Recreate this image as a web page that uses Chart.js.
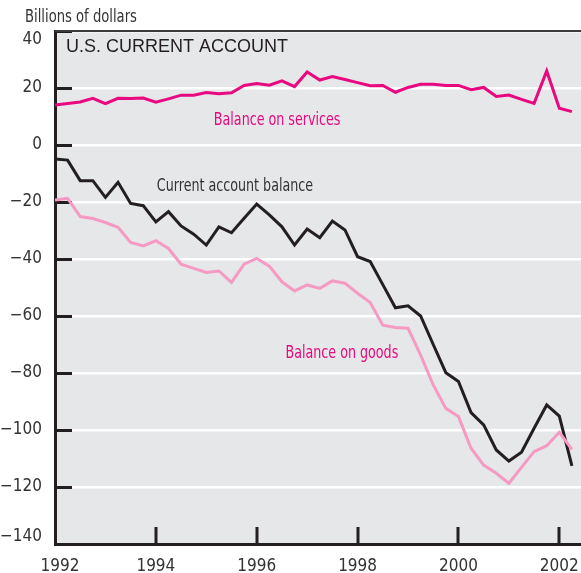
<!DOCTYPE html>
<html>
<head>
<meta charset="utf-8">
<script src="https://cdn.jsdelivr.net/npm/chart.js@4/dist/chart.umd.min.js"></script>
<style>
  html, body { margin: 0; padding: 0; background: #fff; }
  #wrap { position: relative; width: 581px; height: 573px; }
</style>
</head>
<body>
<div id="wrap"><canvas id="chart" width="581" height="573"></canvas></div>
<script>
// Quarterly balances, billions of dollars.
// Each quarter is plotted at its end date, so 1991Q4 sits on the 1992 tick.
const quarters = [
  '1991Q4',
  '1992Q1', '1992Q2', '1992Q3', '1992Q4',
  '1993Q1', '1993Q2', '1993Q3', '1993Q4',
  '1994Q1', '1994Q2', '1994Q3', '1994Q4',
  '1995Q1', '1995Q2', '1995Q3', '1995Q4',
  '1996Q1', '1996Q2', '1996Q3', '1996Q4',
  '1997Q1', '1997Q2', '1997Q3', '1997Q4',
  '1998Q1', '1998Q2', '1998Q3', '1998Q4',
  '1999Q1', '1999Q2', '1999Q3', '1999Q4',
  '2000Q1', '2000Q2', '2000Q3', '2000Q4',
  '2001Q1', '2001Q2', '2001Q3', '2001Q4',
  '2002Q1',
];

const services = [
  14.0, 14.6, 15.1, 16.4, 14.5, 16.4, 16.3, 16.5, 15.0, 16.2,
  17.5, 17.5, 18.4, 18.0, 18.3, 20.9, 21.6, 21.0, 22.5, 20.5,
  25.6, 22.8, 24.0, 23.0, 21.9, 20.8, 20.9, 18.5, 20.2, 21.3,
  21.3, 20.9, 20.9, 19.4, 20.2, 17.0, 17.5, 16.0, 14.6, 26.0,
  12.9, 11.7,
];

const currentAccount = [
  -4.9, -5.3, -12.5, -12.5, -18.4, -13.1, -20.5, -21.3, -27.0, -23.4,
  -28.4, -31.3, -35.1, -28.7, -30.8, -25.7, -20.7, -24.5, -28.7, -35.1,
  -29.5, -32.5, -26.7, -29.8, -39.2, -40.9, -49.0, -57.1, -56.4, -60.0,
  -70.0, -79.9, -83.0, -93.9, -98.2, -107.0, -110.9, -107.8, -99.4, -91.2,
  -95.1, -112.6,
];

const goods = [
  -19.3, -18.7, -25.1, -25.8, -27.2, -28.9, -34.2, -35.4, -33.6, -36.3,
  -41.8, -43.3, -44.7, -44.2, -48.2, -41.8, -39.8, -42.5, -48.0, -51.2,
  -49.1, -50.3, -47.7, -48.5, -52.0, -55.3, -63.2, -64.0, -64.3, -73.7,
  -84.2, -92.4, -95.3, -106.4, -112.3, -115.2, -118.7, -113.1, -107.6, -105.5,
  -100.8, -106.8,
];

// series labels, anchored in data space (left edge, baseline)
const seriesLabels = [
  { text: 'Balance on services', x: 1995.15, y: 7.0, color: '#e8087f' },
  { text: 'Current account balance', x: 1994.02, y: -16.0, color: '#333333' },
  { text: 'Balance on goods', x: 1996.57, y: -74.6, color: '#e8087f' },
];

const NARROW = "'Liberation Sans Narrow', 'DejaVu Sans Condensed', sans-serif";
const INK = '#231f20';

const quarterEnd = (q) => Number(q.slice(0, 4)) + Number(q.slice(5)) / 4;
const pts = (vals) => vals.map((v, i) => ({ x: quarterEnd(quarters[i]), y: v }));

const line = (label, vals, color) => ({
  label, data: pts(vals), borderColor: color, borderWidth: 3,
  pointRadius: 0, tension: 0, borderJoinStyle: 'miter', fill: false,
});

// squeeze text horizontally, the print uses a condensed face
function narrowText(ctx, text, x, y, squeeze) {
  ctx.save();
  ctx.translate(x, y);
  ctx.scale(squeeze, 1);
  ctx.fillText(text, 0, 0);
  ctx.restore();
}

const frame = {
  id: 'frame',
  beforeDraw(chart) {
    const { ctx, chartArea: a } = chart;
    ctx.save();
    ctx.fillStyle = '#e6e7e8';
    ctx.fillRect(a.left, a.top, a.right - a.left, a.bottom - a.top);
    ctx.restore();
  },
  beforeDatasetsDraw(chart) {
    const { ctx, chartArea: a, scales: { x, y } } = chart;
    ctx.save();
    ctx.strokeStyle = INK;
    ctx.lineWidth = 3;
    ctx.beginPath();
    y.ticks.forEach((t) => {
      const py = Math.round(y.getPixelForValue(t.value)) + 0.5;
      ctx.moveTo(a.left, py);
      ctx.lineTo(a.left + 17, py);
    });
    x.ticks.forEach((t) => {
      const px = Math.round(x.getPixelForValue(t.value));
      if (px <= a.left + 2) return;
      ctx.moveTo(px, a.bottom);
      ctx.lineTo(px, a.bottom - 17);
    });
    ctx.stroke();
    // top frame line
    ctx.strokeStyle = '#3a3a3a';
    ctx.lineWidth = 2;
    ctx.beginPath();
    ctx.moveTo(a.left, a.top);
    ctx.lineTo(a.right, a.top);
    ctx.stroke();
    ctx.restore();
  },
  afterDraw(chart) {
    const { ctx, chartArea: a, scales: { x, y } } = chart;
    ctx.save();
    ctx.fillStyle = '#333333';

    // tick labels; the end ones are pulled inside the frame as in the print
    ctx.font = '17px ' + NARROW;
    ctx.textAlign = 'right';
    ctx.textBaseline = 'middle';
    y.ticks.forEach((t) => {
      const py = Math.min(Math.max(y.getPixelForValue(t.value), a.top + 9), a.bottom - 7);
      ctx.fillText(String(t.value).replace('-', '\u2212'), a.left - 13, py);
    });
    ctx.textAlign = 'center';
    ctx.textBaseline = 'alphabetic';
    x.ticks.forEach((t) => {
      const px = Math.max(x.getPixelForValue(t.value), a.left + 5);
      ctx.fillText(String(t.value), px, 571);
    });

    ctx.textAlign = 'left';
    narrowText(ctx, 'Billions of dollars', 25, 22, 0.86);
    ctx.font = '18px "Liberation Sans", Arial, sans-serif';
    ctx.fillStyle = INK;
    ctx.fillText('U.S. CURRENT ACCOUNT', a.left + 11, 52);
    ctx.font = '17px ' + NARROW;
    seriesLabels.forEach((l) => {
      ctx.fillStyle = l.color;
      narrowText(ctx, l.text, x.getPixelForValue(l.x), y.getPixelForValue(l.y), 0.83);
    });
    ctx.restore();
  },
};

new Chart(document.getElementById('chart'), {
  type: 'line',
  data: {
    datasets: [
      line('Balance on goods', goods, '#f59bc3'),
      line('Balance on services', services, '#e8087f'),
      line('Current account balance', currentAccount, INK),
    ],
  },
  options: {
    responsive: false, animation: false,
    layout: { padding: { top: 31, right: 0, bottom: 0, left: 0 } },
    plugins: { legend: { display: false }, tooltip: { enabled: false } },
    scales: {
      x: {
        type: 'linear', min: 1992, max: 2002.43,
        afterFit: (s) => { s.height = 29; s.paddingLeft = 0; s.paddingRight = 0; },
        grid: { display: false, drawTicks: false },
        border: { color: INK, width: 3 },
        ticks: { display: false, stepSize: 2, includeBounds: false, autoSkip: false },
      },
      y: {
        min: -140, max: 40,
        afterFit: (s) => { s.width = 55; s.paddingTop = 0; s.paddingBottom = 0; },
        grid: { color: '#ffffff', lineWidth: 2.5, drawTicks: false },
        border: { color: INK, width: 3 },
        ticks: { display: false, stepSize: 20 },
      },
    },
  },
  plugins: [frame],
});
</script>
</body>
</html>
